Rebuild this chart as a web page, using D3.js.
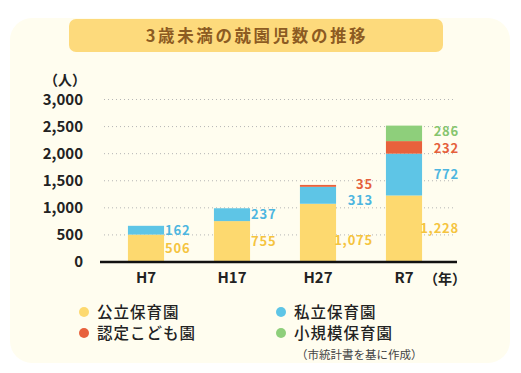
<!DOCTYPE html>
<html><head><meta charset="utf-8">
<script src="https://cdn.jsdelivr.net/npm/d3@7"></script>
<style>
html,body{margin:0;padding:0;background:#fff;}
svg{display:block;}
text{font-family:"Noto Sans CJK JP","Noto Sans",sans-serif;}
</style>
</head><body>
<svg id="c" width="521" height="373"></svg>
<script>
const title = "3歳未満の就園児数の推移";
const categories = ["H7", "H17", "H27", "R7"];
const seriesNames = ["公立保育園", "私立保育園", "認定こども園", "小規模保育園"];
const publicVals = [506, 755, 1075, 1228];
const privateVals = [162, 237, 313, 772];
const kodomoVals = [0, 0, 35, 232];
const smallVals = [0, 0, 0, 286];
const yTicks = [0, 500, 1000, 1500, 2000, 2500, 3000];
const yUnit = "（人）";
const xUnit = "（年）";
const source = "（市統計書を基に作成）";

const colors = ["#fdd96f", "#5ec5e6", "#e8613c", "#8ecf7b"];
const labelColors = ["#f5c43f", "#4db6e0", "#e5603c", "#86c56e"];

const svg = d3.select("#c");
svg.append("rect").attr("x",10).attr("y",18).attr("width",500).attr("height",345)
  .attr("rx",22).attr("fill","#fffdef");
svg.append("rect").attr("x",69).attr("y",19).attr("width",374).attr("height",33)
  .attr("rx",7).attr("fill","#fdda7c");
svg.append("text").attr("x",257).attr("y",41.5).attr("text-anchor","middle")
  .attr("font-size",16.5).attr("font-weight",700).attr("fill","#8c5b22")
  .attr("letter-spacing",2.6).text(title);

const data = categories.map((c,i)=>({cat:c, v:[publicVals[i], privateVals[i], kodomoVals[i], smallVals[i]]}));
const stack = d3.stack().keys([0,1,2,3]).value((d,k)=>d.v[k]);
const series = stack(data);

const y = d3.scaleLinear().domain([0,3000]).range([262,99.5]);
const x = d3.scaleBand().domain(categories).range([103,447]).paddingInner(0.58).paddingOuter(0.29);

// grid
svg.append("g").selectAll("line").data(yTicks.filter(t=>t>0)).join("line")
  .attr("x1",104).attr("x2",453).attr("y1",d=>y(d)).attr("y2",d=>y(d))
  .attr("stroke","#b5b5b5").attr("stroke-width",1).attr("stroke-dasharray","1,3");

// y axis labels
const yAxis = d3.axisLeft(y).tickValues(yTicks).tickSize(0).tickPadding(0).tickFormat(d3.format(","));
const ya = svg.append("g").attr("transform","translate(83,0)").call(yAxis);
ya.select(".domain").remove();
ya.selectAll("text").attr("font-size",15).attr("font-weight",700).attr("fill","#222")
  .attr("font-family","Roboto, 'Noto Sans', sans-serif");
svg.append("text").attr("x",86).attr("y",85).attr("text-anchor","end")
  .attr("font-size",14).attr("font-weight",700).attr("fill","#222").text(yUnit);

// bars
svg.append("g").selectAll("g").data(series).join("g").attr("fill",(d,i)=>colors[i])
  .selectAll("rect").data(d=>d).join("rect")
  .attr("x",d=>x(d.data.cat)).attr("width",x.bandwidth())
  .attr("y",d=>y(d[1])).attr("height",d=>y(d[0])-y(d[1]));

// value labels
const fmt = d3.format(",");
const nudge = (cat,k)=>{
  if (cat==="H27") return [7,5,-2,0][k];
  if (cat==="R7") return [0,0,1,-2][k];
  return 0;
};
series.forEach((s,k)=>{
  svg.append("g").selectAll("text").data(s.filter(d=>d[1]-d[0]>0)).join("text")
    .attr("x",d=>{const i=categories.indexOf(d.data.cat); return i>=2 ? x(d.data.cat)+x.bandwidth()+37 : x(d.data.cat)+x.bandwidth()+1;})
    .attr("text-anchor",d=>categories.indexOf(d.data.cat)>=2?"end":"start")
    .attr("y",d=>(y(d[0])+y(d[1]))/2 + nudge(d.data.cat,k))
    .attr("dy","0.36em")
    .attr("font-size",13).attr("font-weight",700).attr("fill",labelColors[k])
    .attr("font-family","Roboto, 'Noto Sans', sans-serif")
    .attr("letter-spacing",0.8)
    .text(d=>fmt(d[1]-d[0]));
});

// x axis
const xAxis = d3.axisBottom(x).tickSize(0).tickPadding(10);
const xa = svg.append("g").attr("transform","translate(0,262)").call(xAxis);
xa.select(".domain").attr("d","M100,0H457").attr("stroke","#111").attr("stroke-width",2.5);
xa.selectAll("text").attr("font-size",15).attr("font-weight",700).attr("fill","#222")
  .attr("font-family","Roboto, 'Noto Sans', sans-serif");
svg.append("text").attr("x",445).attr("y",284).attr("text-anchor","middle")
  .attr("font-size",14).attr("font-weight",700).attr("fill","#222").text(xUnit);

// legend
const legPos = [[84,312],[281,312],[84,333],[281,333]];
const lg = svg.append("g").selectAll("g").data(seriesNames).join("g")
  .attr("transform",(d,i)=>`translate(${legPos[i][0]},${legPos[i][1]})`);
lg.append("circle").attr("r",5).attr("fill",(d,i)=>colors[i]);
lg.append("text").attr("x",13).attr("dy","0.36em").attr("font-size",15.5)
  .attr("letter-spacing",1).attr("fill","#222").attr("font-weight",500).text(d=>d);

svg.append("text").attr("x",296).attr("y",355).attr("dy","0.36em").attr("font-size",11.5)
  .attr("fill","#444").text(source);
</script>
</body></html>
